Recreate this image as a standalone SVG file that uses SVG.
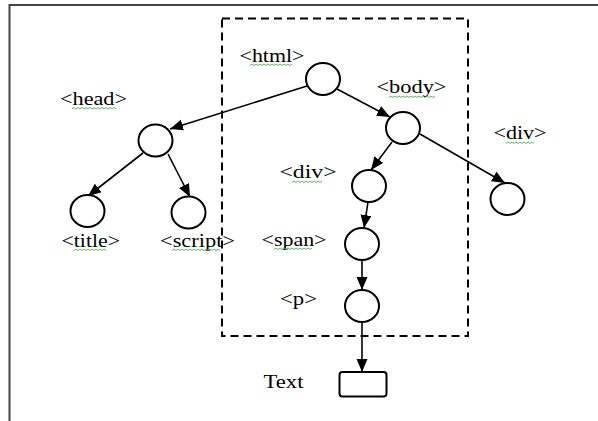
<svg xmlns="http://www.w3.org/2000/svg" width="598" height="421" viewBox="0 0 598 421">
<defs>
<marker id="ah" markerUnits="userSpaceOnUse" markerWidth="14" markerHeight="12" refX="13" refY="5.5" orient="auto">
<path d="M0,0 L13,5.5 L0,11 z" fill="#000"/>
</marker>
<style>
.n{fill:#fff;stroke:#000;stroke-width:2}
.c{stroke:#000;stroke-width:1.6;fill:none;marker-end:url(#ah)}
.t{font-family:"Liberation Serif","Times New Roman",serif;font-size:18px;fill:#000}
.w{fill:none;stroke:#5cb85c;stroke-width:1}
</style>
</defs>
<rect width="598" height="421" fill="#fff"/>
<path d="M9.5,421 V5 H598" fill="none" stroke="#444" stroke-width="2"/>
<rect id="subtree" x="222" y="18.5" width="246" height="317.5" fill="none" stroke="#000" stroke-width="2" stroke-dasharray="8,5"/>
<g id="connectors">
<line class="c" x1="307" y1="86" x2="170" y2="129"/>
<line class="c" x1="337" y1="89" x2="390" y2="117"/>
<line class="c" x1="143" y1="153" x2="88" y2="196"/>
<line class="c" x1="168" y1="154" x2="190" y2="197"/>
<line class="c" x1="392" y1="142" x2="371" y2="170"/>
<line class="c" x1="420" y1="134" x2="505" y2="183"/>
<line class="c" x1="368" y1="202" x2="364" y2="228"/>
<line class="c" x1="362" y1="260" x2="362" y2="290"/>
<line class="c" x1="362" y1="322" x2="362" y2="372"/>
</g>
<g id="html"><ellipse class="n" cx="323" cy="79" rx="17" ry="16"/><text class="t" x="239.5" y="61.5" textLength="65" lengthAdjust="spacingAndGlyphs">&lt;html&gt;</text><polyline class="w" points="250,65.5 252,64 254,65.5 256,64 258,65.5 260,64 262,65.5 264,64 266,65.5 268,64 270,65.5 272,64 274,65.5 276,64 278,65.5 280,64 282,65.5 284,64 286,65.5 288,64 290,65.5 292,64"/></g>
<g id="head"><ellipse class="n" cx="155.5" cy="140.5" rx="17" ry="16"/><text class="t" x="60" y="105" textLength="67" lengthAdjust="spacingAndGlyphs">&lt;head&gt;</text><polyline class="w" points="72,109 74,107.5 76,109 78,107.5 80,109 82,107.5 84,109 86,107.5 88,109 90,107.5 92,109 94,107.5 96,109 98,107.5 100,109 102,107.5 104,109 106,107.5 108,109 110,107.5 112,109 114,107.5 116,109"/></g>
<g id="body"><ellipse class="n" cx="403" cy="128" rx="17" ry="16"/><text class="t" x="376.5" y="93.3" textLength="70" lengthAdjust="spacingAndGlyphs">&lt;body&gt;</text><polyline class="w" points="389,97.5 391,96 393,97.5 395,96 397,97.5 399,96 401,97.5 403,96 405,97.5 407,96 409,97.5 411,96 413,97.5 415,96 417,97.5 419,96 421,97.5 423,96 425,97.5 427,96 429,97.5 431,96 433,97.5 435,96"/></g>
<g id="title"><ellipse class="n" cx="87.5" cy="211" rx="17" ry="16"/><text class="t" x="61.5" y="246.5" textLength="58.5" lengthAdjust="spacingAndGlyphs">&lt;title&gt;</text><polyline class="w" points="74,250.5 76,249 78,250.5 80,249 82,250.5 84,249 86,250.5 88,249 90,250.5 92,249 94,250.5 96,249 98,250.5 100,249 102,250.5 104,249 106,250.5"/></g>
<g id="script"><ellipse class="n" cx="188.5" cy="212.5" rx="17" ry="16"/><text class="t" x="160" y="246.5" textLength="75" lengthAdjust="spacingAndGlyphs">&lt;script&gt;</text><polyline class="w" points="172,250.5 174,249 176,250.5 178,249 180,250.5 182,249 184,250.5 186,249 188,250.5 190,249 192,250.5 194,249 196,250.5 198,249 200,250.5 202,249 204,250.5 206,249 208,250.5 210,249 212,250.5 214,249 216,250.5 218,249 220,250.5"/></g>
<g id="div1"><ellipse class="n" cx="369" cy="186" rx="17" ry="16"/><text class="t" x="279.5" y="178.3" textLength="57" lengthAdjust="spacingAndGlyphs">&lt;div&gt;</text><polyline class="w" points="292,182.5 294,181 296,182.5 298,181 300,182.5 302,181 304,182.5 306,181 308,182.5 310,181 312,182.5 314,181 316,182.5 318,181 320,182.5 322,181"/></g>
<g id="div2"><ellipse class="n" cx="507.5" cy="199" rx="17" ry="16"/><text class="t" x="493.5" y="139.3" textLength="53" lengthAdjust="spacingAndGlyphs">&lt;div&gt;</text><polyline class="w" points="506,143.5 508,142 510,143.5 512,142 514,143.5 516,142 518,143.5 520,142 522,143.5 524,142 526,143.5 528,142 530,143.5 532,142 534,143.5"/></g>
<g id="span"><ellipse class="n" cx="362" cy="244" rx="17" ry="16"/><text class="t" x="261.5" y="245.5" textLength="65" lengthAdjust="spacingAndGlyphs">&lt;span&gt;</text><polyline class="w" points="274,249.5 276,248 278,249.5 280,248 282,249.5 284,248 286,249.5 288,248 290,249.5 292,248 294,249.5 296,248 298,249.5 300,248 302,249.5 304,248 306,249.5 308,248 310,249.5 312,248"/></g>
<g id="p"><ellipse class="n" cx="362" cy="306" rx="17" ry="16"/><text class="t" x="280" y="304.5" textLength="37" lengthAdjust="spacingAndGlyphs">&lt;p&gt;</text></g>
<g id="text"><rect class="n" x="339.5" y="372" width="47" height="24.5" rx="3"/><text class="t" x="263.5" y="388.3" textLength="40" lengthAdjust="spacingAndGlyphs">Text</text></g>
</svg>
